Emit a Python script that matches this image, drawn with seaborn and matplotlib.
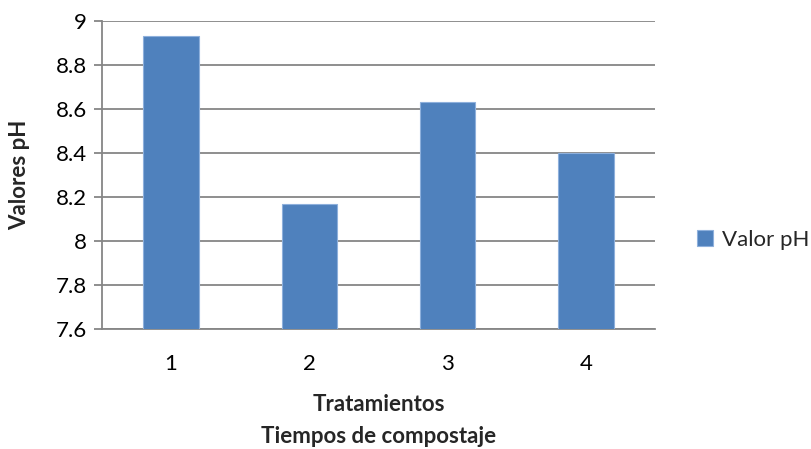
import matplotlib
matplotlib.use("Agg")
import matplotlib.pyplot as plt
import seaborn as sns
import pandas as pd

categories = ["1", "2", "3", "4"]
values = [8.93, 8.17, 8.63, 8.40]
series_name = "Valor pH"
yticks = [7.6, 7.8, 8.0, 8.2, 8.4, 8.6, 8.8, 9.0]
ytick_labels = ["7.6", "7.8", "8", "8.2", "8.4", "8.6", "8.8", "9"]

sns.set_theme(style="white")
plt.rcParams["font.family"] = ["Lato", "DejaVu Sans"]

df = pd.DataFrame({"Tratamiento": categories, "pH": values})

fig = plt.figure(figsize=(8.12, 4.49), dpi=100)
ax = fig.add_axes([0.1256, 0.2666, 0.6811, 0.6874])

sns.barplot(data=df, x="Tratamiento", y="pH", color="#4F81BD", saturation=1,
            width=0.4, ax=ax, label=series_name, edgecolor="#8EB0DC", linewidth=0.8,
            zorder=3)

ax.set_ylim(7.6, 9.0)
ax.set_yticks(yticks)
ax.set_yticklabels(ytick_labels)
ax.set_xlim(-0.5, 3.5)

grid_c = "#868686"
ax.yaxis.grid(True, color=grid_c, linewidth=1.3, zorder=0)
ax.set_axisbelow(True)
for s in ["top", "right"]:
    ax.spines[s].set_visible(False)
ax.spines["left"].set_color(grid_c)
ax.spines["left"].set_linewidth(1.3)
ax.spines["bottom"].set_color(grid_c)
ax.spines["bottom"].set_linewidth(1.3)

fs = 16
ax.tick_params(axis="y", which="major", direction="out", length=6, width=1.3,
               color=grid_c, left=True, labelsize=fs, pad=5, labelcolor="#000000")
ax.tick_params(axis="x", length=0, labelsize=fs, pad=18, labelcolor="#000000")

ax.set_ylabel("Valores pH", fontsize=fs, fontweight="bold", labelpad=18)
ax.set_xlabel("Tratamientos\nTiempos de compostaje", fontsize=fs,
              fontweight="bold", labelpad=14, linespacing=1.65)

leg = ax.legend(loc="center right", bbox_to_anchor=(809 / 812, 1 - 240 / 449),
                bbox_transform=fig.transFigure, frameon=False,
                fontsize=fs, handlelength=0.7, handleheight=0.7,
                handletextpad=0.4, borderaxespad=0, borderpad=0)

fig.savefig("out.png", dpi=100)
